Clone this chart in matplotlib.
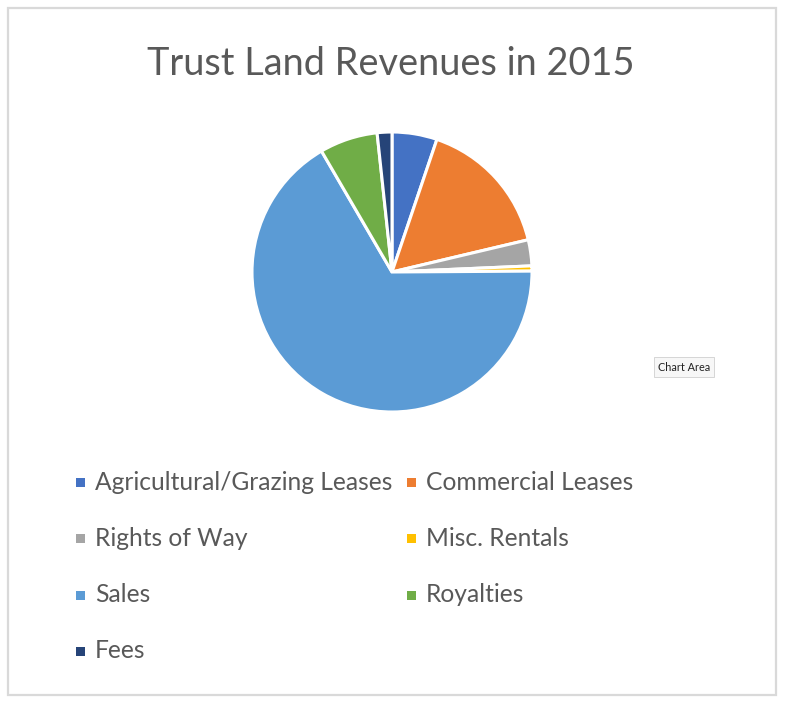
import matplotlib
matplotlib.use("Agg")
import matplotlib.pyplot as plt
from matplotlib.patches import Rectangle

# revenue share by source, in percent
categories = ["Agricultural/Grazing Leases", "Commercial Leases", "Rights of Way",
              "Misc. Rentals", "Sales", "Royalties", "Fees"]
shares = [5.2, 16.1, 3.0, 0.6, 66.7, 6.7, 1.7]
colors = ["#4472C4", "#ED7D31", "#A5A5A5", "#FFC000", "#5B9BD5", "#70AD47", "#264478"]
title = "Trust Land Revenues in 2015"

W, H = 785, 707
plt.rcParams['font.family'] = ['Lato', 'DejaVu Sans']
fig = plt.figure(figsize=(W / 100, H / 100), dpi=100)
fig.patch.set_facecolor("white")

# outer chart frame
fig.patches.append(Rectangle((8 / W, 1 - 695 / H), 768 / W, 687 / H,
                             transform=fig.transFigure, fill=False,
                             edgecolor="#d9d9d9", linewidth=1.6))

fig.text(391 / W, 1 - 64 / H, title, ha="center", va="center",
         fontsize=27.3, color="#595959")

# pie, centre (392, 272), radius 140 px
cx, cy, r = 392, 272, 140
ax = fig.add_axes([(cx - r) / W, 1 - (cy + r) / H, 2 * r / W, 2 * r / H])
ax.pie(shares, colors=colors, startangle=90, counterclock=False,
       wedgeprops=dict(edgecolor="white", linewidth=2.2))
ax.set_xlim(-1, 1)
ax.set_ylim(-1, 1)
ax.axis("off")

# legend, two columns, row-major like Excel
col_x = [76, 407]
row_y = [482, 538, 595, 651]
for i, (lab, c) in enumerate(zip(categories, colors)):
    x = col_x[i % 2]
    y = row_y[i // 2]
    fig.patches.append(Rectangle((x / W, 1 - (y + 4.5) / H), 9 / W, 9 / H,
                                 transform=fig.transFigure, facecolor=c,
                                 edgecolor="none"))
    fig.text((x + 19) / W, 1 - y / H, lab, ha="left", va="center",
             fontsize=17.7, color="#595959")

# hover tooltip left in the screenshot
fig.text(684 / W, 1 - 367 / H, "Chart Area", ha="center", va="center",
         fontsize=7.8, color="#222222",
         bbox=dict(boxstyle="square,pad=0.4", facecolor="#f7f7f7",
                   edgecolor="#cfcfcf", linewidth=0.6))

fig.savefig("out.png", dpi=100)
